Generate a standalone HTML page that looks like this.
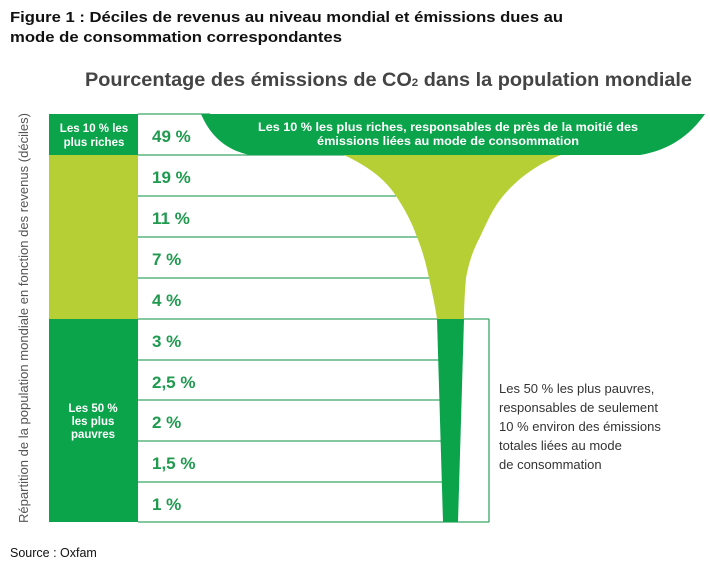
<!DOCTYPE html>
<html><head><meta charset="utf-8"><style>html,body{margin:0;padding:0;background:#fff}svg{display:block}</style></head>
<body>
<svg width="710" height="568" viewBox="0 0 710 568" xmlns="http://www.w3.org/2000/svg" font-family="'Liberation Sans', sans-serif">
<rect width="710" height="568" fill="#fff"/>
<text x="10" y="22" font-size="15" font-weight="bold" fill="#111" textLength="553" lengthAdjust="spacingAndGlyphs">Figure 1 : Déciles de revenus au niveau mondial et émissions dues au</text>
<text x="10" y="42" font-size="15" font-weight="bold" fill="#111" textLength="332" lengthAdjust="spacingAndGlyphs">mode de consommation correspondantes</text>
<text x="85" y="86" font-size="19" font-weight="bold" fill="#444" textLength="607" lengthAdjust="spacingAndGlyphs">Pourcentage des émissions de CO<tspan font-size="11">2</tspan> dans la population mondiale</text>

<text transform="translate(28,318) rotate(-90)" text-anchor="middle" font-size="12.5" fill="#555" textLength="410" lengthAdjust="spacingAndGlyphs">Répartition de la population mondiale en fonction des revenus (déciles)</text>

<rect x="49" y="114" width="89" height="41" fill="#0ba44b"/>
<rect x="49" y="155" width="89" height="164" fill="#b5cf35"/>
<rect x="49" y="319" width="89" height="203" fill="#0ba44b"/>
<text x="94" y="132" font-size="11.5" font-weight="bold" fill="#fff" text-anchor="middle">Les 10 % les</text>
<text x="94" y="146" font-size="11.5" font-weight="bold" fill="#fff" text-anchor="middle">plus riches</text>
<text x="93" y="412" font-size="11.5" font-weight="bold" fill="#fff" text-anchor="middle">Les 50 %</text>
<text x="93" y="425" font-size="11.5" font-weight="bold" fill="#fff" text-anchor="middle">les plus</text>
<text x="93" y="438" font-size="11.5" font-weight="bold" fill="#fff" text-anchor="middle">pauvres</text>

<g stroke="#3aa866" stroke-width="1.3" fill="none">
<line x1="138" y1="114" x2="210" y2="114"/>
<line x1="138" y1="155" x2="350" y2="155"/>
<line x1="138" y1="196" x2="396" y2="196"/>
<line x1="138" y1="237" x2="418" y2="237"/>
<line x1="138" y1="278" x2="430" y2="278"/>
<line x1="138" y1="319" x2="489" y2="319"/>
<line x1="138" y1="360" x2="440" y2="360"/>
<line x1="138" y1="400" x2="441" y2="400"/>
<line x1="138" y1="441" x2="442" y2="441"/>
<line x1="138" y1="482" x2="443" y2="482"/>
<line x1="138" y1="522" x2="489" y2="522"/>
<line x1="489" y1="319" x2="489" y2="522"/>
</g>

<path d="M344,155 C372,168 387,182 396,196 C408,214 413,226 417,237 C423,252 426,264 429,278 C432,292 435,305 437,319 L464,319 C464,305 465,290 466,278 C469,262 473,250 480,237 C487,222 493,208 503,196 C520,176 540,163 561,155 Z" fill="#b5cf35"/>
<path d="M437,319 L464,319 L458,522 L443,522 Z" fill="#0ba44b"/>
<path d="M201,114 L705,114 C690,135 670,150 640,155 L250,155 C225,150 210,135 201,114 Z" fill="#0ba44b"/>
<text x="448" y="131" font-size="11.5" font-weight="bold" fill="#fff" text-anchor="middle" textLength="380" lengthAdjust="spacingAndGlyphs">Les 10 % les plus riches, responsables de près de la moitié des</text>
<text x="448" y="145" font-size="11.5" font-weight="bold" fill="#fff" text-anchor="middle" textLength="262" lengthAdjust="spacingAndGlyphs">émissions liées au mode de consommation</text>

<g font-size="17" font-weight="bold" fill="#1f9a4f">
<text x="152" y="142">49 %</text>
<text x="152" y="183">19 %</text>
<text x="152" y="224">11 %</text>
<text x="152" y="265">7 %</text>
<text x="152" y="306">4 %</text>
<text x="152" y="347">3 %</text>
<text x="152" y="388">2,5 %</text>
<text x="152" y="428">2 %</text>
<text x="152" y="469">1,5 %</text>
<text x="152" y="510">1 %</text>
</g>

<g font-size="13" fill="#333">
<text x="499" y="393">Les 50 % les plus pauvres,</text>
<text x="499" y="412">responsables de seulement</text>
<text x="499" y="431">10 % environ des émissions</text>
<text x="499" y="450">totales liées au mode</text>
<text x="499" y="469">de consommation</text>
</g>
<text x="10" y="557" font-size="12.5" fill="#111">Source : Oxfam</text>
</svg>
</body></html>
